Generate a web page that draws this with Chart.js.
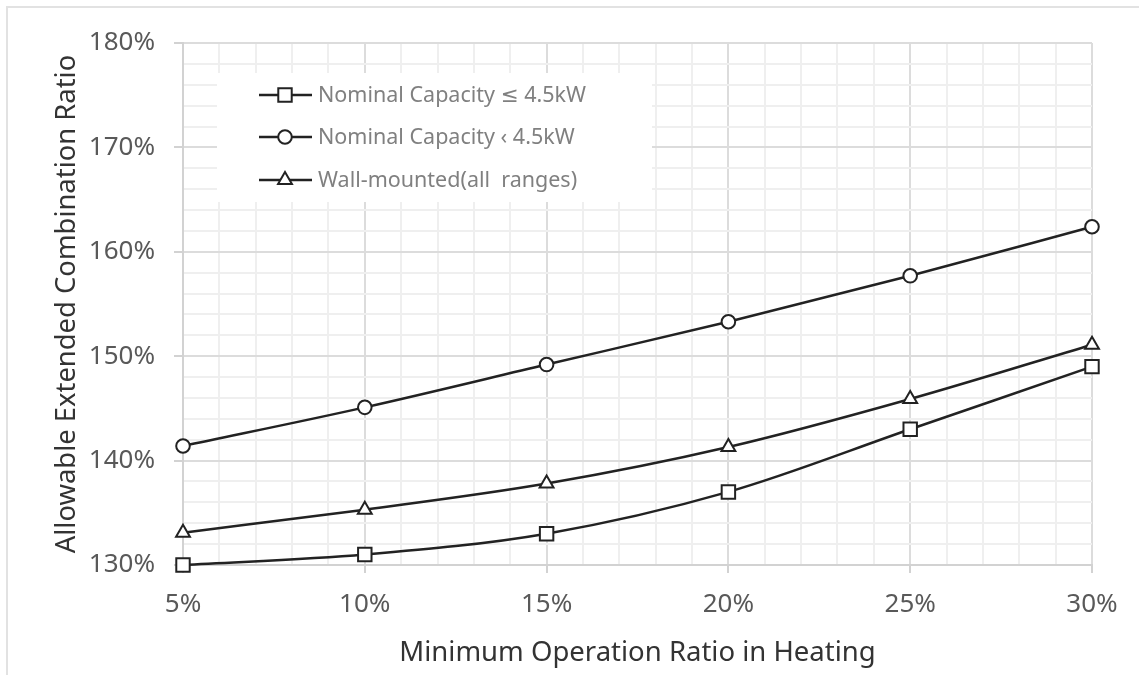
<!DOCTYPE html>
<html>
<head>
<meta charset="utf-8">
<script src="https://cdn.jsdelivr.net/npm/chart.js@4/dist/chart.umd.min.js"></script>
<style>
  html, body { margin: 0; padding: 0; background: #fff; }
  canvas { display: block; }
</style>
</head>
<body>
<canvas id="chart" width="1139" height="675"></canvas>
<script>
// minimum operation ratio (%) on the x axis
const ratioX = [5, 10, 15, 20, 25, 30];
// allowable extended combination ratio (%) per series
const capLe45 = [130, 131, 133, 137, 143, 149];
const capLt45 = [141.4, 145.1, 149.2, 153.3, 157.7, 162.4];
const wallMounted = [133.1, 135.3, 137.8, 141.3, 145.9, 151.1];

const seriesNames = ['Nominal Capacity \u2264 4.5kW', 'Nominal Capacity \u2039 4.5kW', 'Wall-mounted(all  ranges)'];

const FONT = '"Noto Sans", "DejaVu Sans", sans-serif';
const toPoints = ys => ratioX.map((x, i) => ({x: x, y: ys[i]}));

function series(label, ys, style, radius) {
  return {
    label: label,
    data: toPoints(ys),
    borderColor: '#222',
    borderWidth: 2.5,
    cubicInterpolationMode: 'monotone',
    clip: false,
    pointStyle: style,
    pointRadius: radius,
    pointBorderWidth: 2,
    pointBackgroundColor: '#fff',
    pointBorderColor: '#222'
  };
}

// light frame round the figure
const frame = {
  id: 'frame',
  beforeDraw(chart) {
    const ctx = chart.ctx;
    ctx.save();
    ctx.strokeStyle = '#e2e2e2';
    ctx.lineWidth = 2;
    ctx.beginPath();
    ctx.moveTo(7, chart.height);
    ctx.lineTo(7, 7);
    ctx.lineTo(chart.width, 7);
    ctx.stroke();
    ctx.restore();
  }
};

// legend box drawn inside the plot area
const insideLegend = {
  id: 'insideLegend',
  beforeDatasetsDraw(chart) {
    const ctx = chart.ctx;
    ctx.save();
    ctx.fillStyle = '#fff';
    ctx.fillRect(217, 73, 435, 129);
    const rows = [95, 137, 180];
    chart.data.datasets.forEach((ds, i) => {
      const y = rows[i];
      ctx.strokeStyle = '#222';
      ctx.lineWidth = 2.5;
      ctx.beginPath();
      ctx.moveTo(259, y);
      ctx.lineTo(312, y);
      ctx.stroke();
      ctx.fillStyle = '#fff';
      ctx.lineWidth = 2;
      Chart.helpers.drawPoint(ctx, {pointStyle: ds.pointStyle, radius: ds.pointRadius, rotation: 0, borderWidth: 2}, 285, y);
      ctx.fillStyle = '#808080';
      ctx.font = '21.5px ' + FONT;
      ctx.textBaseline = 'middle';
      ctx.fillText(ds.label, 318, y + 1);
    });
    ctx.restore();
  }
};

new Chart(document.getElementById('chart'), {
  type: 'line',
  data: {
    datasets: [
      series(seriesNames[0], capLe45, 'rect', 9.5),
      series(seriesNames[1], capLt45, 'circle', 6.8),
      series(seriesNames[2], wallMounted, 'triangle', 8)
    ]
  },
  options: {
    responsive: false,
    animation: false,
    layout: {padding: {top: 43, right: 47, bottom: 0, left: 0}},
    plugins: {legend: {display: false}, tooltip: {enabled: false}},
    scales: {
      x: {
        type: 'linear',
        min: 5,
        max: 30,
        afterFit(scale) { scale.height = 110; },
        border: {color: '#d2d2d2', width: 2},
        grid: {
          lineWidth: 2,
          color: c => c.tick && c.tick.value % 5 === 0 ? '#dcdcdc' : '#efefef',
          tickColor: c => c.tick && c.tick.value % 5 === 0 ? '#d2d2d2' : 'rgba(0,0,0,0)',
          tickLength: 8
        },
        ticks: {
          stepSize: 1,
          autoSkip: false,
          maxRotation: 0,
          padding: 16,
          color: '#595959',
          font: {family: FONT, size: 26},
          callback: v => v % 5 === 0 ? v + '%' : ''
        },
        title: {
          display: true,
          text: 'Minimum Operation Ratio in Heating',
          color: '#333',
          font: {family: FONT, size: 27.5},
          padding: {top: 0, bottom: 5}
        }
      },
      y: {
        min: 130,
        max: 180,
        afterFit(scale) { scale.width = 183; },
        border: {color: '#d2d2d2', width: 2},
        grid: {
          lineWidth: 2,
          color: c => c.tick && c.tick.value % 10 === 0 ? '#dcdcdc' : '#efefef',
          tickColor: c => c.tick && c.tick.value % 10 === 0 ? '#d2d2d2' : 'rgba(0,0,0,0)',
          tickLength: 9
        },
        ticks: {
          stepSize: 2,
          autoSkip: false,
          padding: 19,
          color: '#595959',
          font: {family: FONT, size: 26},
          callback: v => v % 10 === 0 ? v + '%' : ''
        },
        title: {
          display: true,
          text: 'Allowable Extended Combination Ratio',
          color: '#333',
          font: {family: FONT, size: 27.4},
          padding: {top: 51, bottom: 0}
        }
      }
    }
  },
  plugins: [frame, insideLegend]
});
</script>
</body>
</html>
